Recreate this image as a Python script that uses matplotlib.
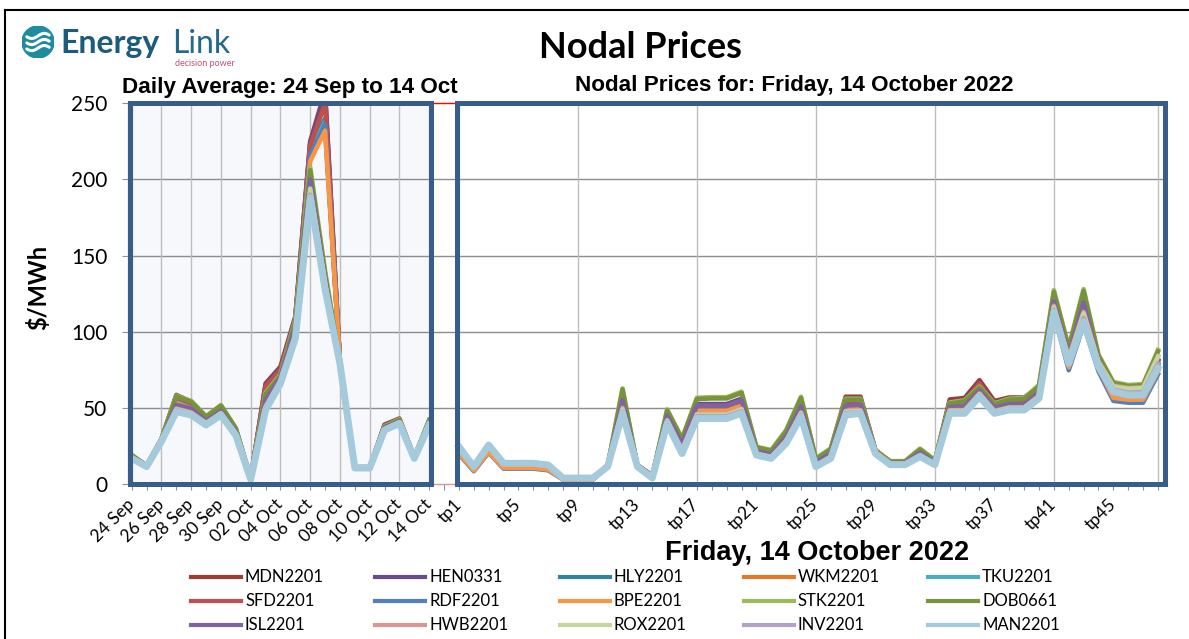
import numpy as np
import matplotlib.pyplot as plt
import matplotlib.transforms as mtransforms
from matplotlib.lines import Line2D
from matplotlib.patches import Rectangle, Circle

# --- categories ---
days = ["24 Sep", "25 Sep", "26 Sep", "27 Sep", "28 Sep", "29 Sep", "30 Sep",
        "01 Oct", "02 Oct", "03 Oct", "04 Oct", "05 Oct", "06 Oct", "07 Oct",
        "08 Oct", "09 Oct", "10 Oct", "11 Oct", "12 Oct", "13 Oct", "14 Oct"]
tps = ["tp%d" % i for i in range(1, 49)]

nodes = ["MDN2201", "HEN0331", "HLY2201", "WKM2201", "TKU2201",
         "SFD2201", "RDF2201", "BPE2201", "STK2201", "DOB0661",
         "ISL2201", "HWB2201", "ROX2201", "INV2201", "MAN2201"]
colors = ["#9E3B38", "#6A4C8C", "#31849B", "#E2772E", "#4BACC6",
          "#C0504D", "#4F81BD", "#F79646", "#9BBB59", "#77933C",
          "#8064A2", "#D99694", "#C3D69B", "#B3A2C7", "#A5CADB"]

# --- daily averages ($/MWh), 24 Sep .. 14 Oct ---
mdn_daily = [18.5, 12, 29.5, 58.5, 54, 44, 51, 36, 3.5, 66, 77, 110, 225, 258, 80, 11, 11, 39, 43, 17.5, 41.5]
hen_daily = [18.5, 12, 29.5, 57.5, 53.5, 43.5, 50.5, 35.5, 3.5, 65, 76, 109, 224, 256, 80, 11, 11, 38.5, 42.5, 17.5, 41]
hly_daily = [18, 12, 29, 56, 52, 42.5, 49.5, 35, 3.5, 63, 74, 107, 221, 240, 80, 11, 11, 37.5, 41.5, 17.5, 40.5]
wkm_daily = [17.5, 11.5, 28.5, 54, 50, 41, 48, 34, 3.5, 59, 72, 105, 214, 233, 80, 11, 11, 37, 41, 17, 40]
tku_daily = [18, 12, 29, 55, 51, 42, 49, 34.5, 3.5, 61, 73, 106, 218, 238, 80, 11, 11, 37, 41, 17, 40]
sfd_daily = [18, 12, 29, 57, 53, 43, 50, 35, 3.5, 64, 75, 108, 222, 250, 80, 11, 11, 38, 42, 17.5, 40.5]
rdf_daily = [17.5, 11.5, 28.5, 53, 49.5, 40.5, 47.5, 33.5, 3.5, 58, 71, 104, 216, 236, 80, 11, 11, 36.5, 40.5, 17, 39.5]
bpe_daily = [17.5, 11.5, 28.5, 53, 49.5, 40.5, 47.5, 33.5, 3.5, 57, 71, 104, 212, 232, 80, 11, 11, 36.5, 40.5, 17, 39.5]
stk_daily = [19, 12, 29.5, 58, 54.5, 44.5, 51.8, 36.7, 3.5, 60, 72, 108, 208, 140, 80, 11, 11, 38, 42.5, 17.5, 42]
dob_daily = [19, 12, 29.5, 57.5, 54, 44, 51.5, 36.5, 3.5, 59, 71, 107, 206, 138, 80, 11, 11, 37.5, 42, 17.5, 42]
isl_daily = [17.5, 11.5, 28.5, 52, 49.5, 41.5, 48, 34, 3.5, 55, 70, 103, 200, 135, 79.5, 10.8, 10.8, 37, 41, 17, 40]
hwb_daily = [17, 11.5, 28, 49.5, 47, 40, 46.5, 33, 3.2, 51, 68, 98, 192, 131, 79, 10.6, 10.6, 36, 40.5, 17, 39.2]
rox_daily = [17, 11.5, 28, 49, 46.5, 40, 46.5, 33, 3.2, 50, 67.5, 97.5, 194, 132, 79, 10.6, 10.6, 36, 40.5, 17, 39.2]
inv_daily = [17, 11.5, 28, 48.5, 46, 39.5, 46, 32.5, 3.2, 49.5, 67, 97, 190, 130, 79, 10.5, 10.5, 35.5, 40, 17, 39]
man_daily = [16.8, 11.4, 28, 47.5, 45.3, 38.7, 45.3, 32, 3.0, 48.6, 66, 95.6, 188, 128, 79, 10.5, 10.5, 35.4, 39.8, 16.8, 38.7]

# --- trading periods, Friday 14 October 2022 ---
mdn_tp = [21.5, 10.0, 22.6, 11.8, 11.8, 11.8, 10.7, 3.2, 3.2, 3.2, 12.4, 57.5, 12.4, 5.5, 45.5, 26.0,
          52.0, 52.0, 52.0, 55.5, 23.5, 21.5, 33.5, 56.0, 15.8, 22.8, 57.3, 57.3, 22.3, 14.8, 14.8, 22.8,
          15.2, 55.5, 56.5, 68.2, 54.5, 56.8, 56.8, 63.5, 121.5, 84.5, 121.0, 82.0, 62.5, 61.0, 61.0, 81.5]
hen_tp = [21.3, 9.9, 22.4, 11.7, 11.7, 11.7, 10.6, 3.2, 3.2, 3.2, 12.3, 57.0, 12.3, 5.4, 46.0, 26.5,
          52.5, 52.5, 52.5, 56.0, 22.8, 20.8, 33.0, 55.0, 15.0, 21.8, 55.8, 56.0, 22.0, 14.5, 14.5, 22.0,
          14.8, 54.0, 55.0, 66.5, 52.5, 55.5, 55.5, 62.5, 121.0, 84.0, 120.0, 81.5, 62.0, 60.5, 60.5, 81.0]
hly_tp = [21.2, 9.8, 22.2, 11.6, 11.6, 11.6, 10.5, 3.1, 3.1, 3.1, 12.3, 52.5, 12.3, 5.3, 44.3, 24.5,
          50.3, 50.3, 50.3, 53.8, 21.6, 19.3, 31.1, 51.2, 13.8, 19.6, 52.0, 53.0, 21.7, 14.3, 14.3, 20.8,
          14.3, 52.8, 53.5, 65.0, 51.2, 53.8, 53.8, 61.2, 118.5, 81.0, 112.5, 79.5, 60.0, 58.5, 58.5, 78.5]
wkm_tp = [20.5, 9.2, 21.5, 11.0, 11.0, 11.0, 9.9, 3.0, 3.0, 3.0, 12.0, 49.8, 12.0, 5.0, 42.8, 23.0,
          48.6, 48.6, 48.6, 52.0, 20.8, 18.6, 29.7, 49.3, 13.1, 18.6, 49.4, 50.5, 21.2, 13.9, 13.9, 19.8,
          13.9, 50.6, 50.6, 62.6, 49.5, 51.7, 51.7, 59.3, 115.5, 78.0, 108.5, 77.0, 57.5, 56.2, 56.2, 75.0]
tku_tp = [21.0, 9.6, 22.0, 11.4, 11.4, 11.4, 10.3, 3.1, 3.1, 3.1, 12.2, 51.5, 12.2, 5.2, 43.8, 24.0,
          49.6, 49.6, 49.6, 53.0, 21.3, 19.0, 30.6, 50.5, 13.5, 19.2, 51.0, 52.0, 21.5, 14.1, 14.1, 20.4,
          14.1, 52.0, 52.5, 64.0, 50.5, 53.0, 53.0, 60.5, 117.5, 80.0, 111.0, 78.5, 59.0, 57.5, 57.5, 77.5]
sfd_tp = [21.0, 9.6, 22.0, 11.4, 11.4, 11.4, 10.3, 3.1, 3.1, 3.1, 12.2, 53.0, 12.2, 5.3, 44.5, 25.0,
          51.0, 51.0, 51.0, 54.5, 22.0, 19.8, 31.8, 52.5, 14.3, 20.5, 54.0, 54.8, 21.8, 14.3, 14.3, 21.2,
          14.5, 53.5, 54.5, 66.0, 52.0, 54.8, 54.8, 61.8, 119.0, 81.5, 113.0, 80.0, 60.5, 59.0, 59.0, 79.0]
rdf_tp = [19.5, 8.4, 20.6, 10.1, 10.1, 10.1, 9.0, 2.9, 2.9, 2.9, 11.4, 48.4, 11.4, 4.4, 41.8, 22.0,
          47.0, 47.0, 47.0, 50.4, 20.0, 17.8, 28.7, 48.2, 12.4, 17.8, 48.3, 49.4, 20.5, 13.2, 13.2, 19.0,
          13.2, 49.4, 49.4, 61.3, 48.4, 50.6, 50.6, 58.2, 112.0, 74.7, 104.5, 74.0, 54.6, 53.4, 53.4, 72.0]
bpe_tp = [20.0, 8.9, 21.1, 10.6, 10.6, 10.6, 9.5, 2.9, 2.9, 2.9, 11.9, 48.9, 11.9, 4.9, 42.3, 22.5,
          48.0, 48.0, 48.0, 51.4, 20.5, 18.3, 29.2, 48.7, 12.9, 18.3, 48.8, 49.9, 21.0, 13.7, 13.7, 19.5,
          13.7, 49.9, 49.9, 61.8, 48.9, 51.1, 51.1, 58.7, 114.0, 76.7, 106.5, 76.0, 56.6, 55.4, 55.4, 74.0]
stk_tp = [24.0, 11.2, 25.2, 13.4, 13.4, 13.4, 12.3, 3.8, 3.8, 3.8, 11.8, 62.8, 11.8, 5.0, 49.0, 30.0,
          56.6, 57.0, 57.0, 60.6, 24.5, 22.3, 35.4, 57.3, 16.8, 23.4, 56.0, 56.0, 22.0, 15.0, 15.0, 23.2,
          15.7, 53.5, 55.0, 64.0, 53.0, 56.0, 56.5, 65.0, 127.3, 90.0, 128.0, 85.0, 67.0, 65.0, 65.6, 88.0]
dob_tp = [23.8, 11.1, 25.0, 13.3, 13.3, 13.3, 12.2, 3.8, 3.8, 3.8, 11.7, 62.0, 11.7, 4.9, 48.3, 29.3,
          55.8, 56.2, 56.2, 59.8, 24.0, 21.8, 34.6, 56.5, 16.3, 22.8, 55.3, 55.3, 21.6, 14.7, 14.7, 22.7,
          15.3, 52.8, 54.3, 63.3, 52.3, 55.3, 55.8, 64.2, 126.0, 89.0, 126.8, 84.2, 66.2, 64.3, 64.8, 87.0]
isl_tp = [24.2, 11.3, 25.3, 13.5, 13.5, 13.5, 12.4, 3.9, 3.9, 3.9, 11.6, 55.0, 11.6, 4.6, 45.0, 26.0,
          51.5, 51.5, 51.5, 55.0, 21.5, 19.5, 31.0, 51.0, 14.0, 20.0, 51.5, 52.0, 21.0, 13.8, 13.8, 20.5,
          14.0, 50.5, 51.0, 61.5, 50.0, 52.5, 52.5, 60.0, 120.0, 84.5, 119.0, 81.0, 63.0, 61.5, 61.8, 80.5]
hwb_tp = [24.4, 11.4, 25.5, 13.6, 13.6, 13.6, 12.5, 3.9, 3.9, 3.9, 11.5, 50.0, 11.5, 4.2, 42.0, 22.5,
          46.0, 46.0, 46.0, 49.5, 20.0, 17.8, 28.5, 47.0, 12.3, 18.0, 48.0, 48.5, 20.5, 13.2, 13.2, 19.0,
          13.2, 48.5, 48.5, 59.5, 48.0, 50.3, 50.3, 58.0, 117.0, 83.0, 113.0, 80.5, 64.5, 63.0, 63.5, 84.0]
rox_tp = [24.4, 11.4, 25.5, 13.6, 13.6, 13.6, 12.5, 3.9, 3.9, 3.9, 11.5, 49.0, 11.5, 4.1, 41.5, 22.0,
          45.5, 45.5, 45.5, 49.0, 19.8, 17.6, 28.2, 46.5, 12.1, 17.8, 47.5, 48.0, 20.3, 13.0, 13.0, 18.8,
          13.0, 48.0, 48.0, 59.0, 47.5, 50.0, 50.0, 57.5, 116.0, 82.0, 112.0, 80.0, 64.0, 62.5, 63.0, 83.5]
inv_tp = [24.5, 11.4, 25.6, 13.6, 13.6, 13.6, 12.5, 3.9, 3.9, 3.9, 11.4, 47.5, 11.4, 4.0, 40.8, 21.0,
          44.5, 44.5, 44.5, 47.8, 19.5, 17.2, 27.5, 45.5, 11.8, 17.3, 46.5, 47.3, 20.2, 12.9, 12.9, 18.4,
          12.9, 47.2, 47.2, 58.2, 47.0, 49.3, 49.3, 56.9, 114.5, 80.5, 109.0, 78.5, 62.0, 60.0, 60.3, 79.0]
man_tp = [24.5, 11.4, 25.6, 13.6, 13.6, 13.6, 12.5, 3.9, 3.9, 3.9, 11.4, 46.4, 11.4, 3.9, 39.8, 20.0,
          43.0, 43.0, 43.0, 46.4, 19.0, 16.8, 26.7, 44.2, 11.4, 16.8, 45.3, 46.4, 20.0, 12.7, 12.7, 18.0,
          12.7, 46.4, 46.4, 57.3, 46.4, 48.6, 48.6, 56.2, 113.0, 79.2, 106.5, 77.0, 60.6, 58.4, 58.4, 76.0]

daily = [mdn_daily, hen_daily, hly_daily, wkm_daily, tku_daily, sfd_daily, rdf_daily, bpe_daily,
         stk_daily, dob_daily, isl_daily, hwb_daily, rox_daily, inv_daily, man_daily]
periods = [mdn_tp, hen_tp, hly_tp, wkm_tp, tku_tp, sfd_tp, rdf_tp, bpe_tp,
           stk_tp, dob_tp, isl_tp, hwb_tp, rox_tp, inv_tp, man_tp]

W, H = 1189, 639
BOX = "#385D8A"
LATO = ["Lato", "DejaVu Sans"]
ARIAL = ["Liberation Sans", "DejaVu Sans"]

fig = plt.figure(figsize=(W / 100, H / 100), dpi=100)

def fx(px):
    return px / W

def fy(py):
    return 1 - py / H

# one category axis: days, one blank slot, then trading periods
day_x = np.arange(len(days))
tp_x = np.arange(len(tps)) + len(days) + 1
n_cat = len(days) + 1 + len(tps)

ax = fig.add_axes([fx(128), fy(484), fx(1166) - fx(128), fy(103.3) - fy(484)])
ax.set_xlim(-0.25, n_cat - 0.46)
ax.set_ylim(0, 250)
for s in ax.spines.values():
    s.set_color("#D99694")
    s.set_linewidth(1)
ax.spines["top"].set_color("#FF0000")

# left panel background
ax.add_patch(Rectangle((-0.11, 0), 20.24, 250, facecolor="#F6F8FB", edgecolor="none", zorder=0.5))

# gridlines
for yv in [50, 100, 150, 200]:
    ax.axhline(yv, color="#8C8C8C", lw=1, zorder=1)
for i in range(0, len(days), 2):
    ax.axvline(day_x[i], color="#BDBDBD", lw=1, zorder=1)
for j in [0, 8, 16, 24, 32, 40, 47]:
    ax.axvline(tp_x[j], color="#BDBDBD", lw=1, zorder=1)

# series
for k, (name, c) in enumerate(zip(nodes, colors)):
    lw = 5 if name == "MAN2201" else 3.3
    ax.plot(day_x, daily[k], color=c, lw=lw, solid_joinstyle="round", zorder=2 + k * 0.01)
    ax.plot(tp_x, periods[k], color=c, lw=lw, solid_joinstyle="round", zorder=2 + k * 0.01)

# panel frames
ax.add_patch(Rectangle((-0.11, 0), 20.24, 250, facecolor="none", edgecolor=BOX, lw=3.6,
                       zorder=4, clip_on=False))
ax.add_patch(Rectangle((21.86, 0), 69.48 - 21.86, 250, facecolor="none", edgecolor=BOX, lw=3.6,
                       zorder=4, clip_on=False))

# ticks
xlabels = [""] * n_cat
for i in range(0, len(days), 2):
    xlabels[day_x[i]] = days[i]
for j in range(0, 45, 4):
    xlabels[tp_x[j]] = tps[j]
ax.set_xticks(np.arange(n_cat))
ax.set_xticklabels(xlabels, rotation=45, ha="right", va="center", rotation_mode="anchor",
                   family=LATO, fontsize=12.5)
shift = mtransforms.ScaledTranslation(6 / 100, 0, fig.dpi_scale_trans)
for lab in ax.get_xticklabels():
    lab.set_transform(lab.get_transform() + shift)
ax.set_yticks([0, 50, 100, 150, 200, 250])
ax.set_yticklabels(["0", "50", "100", "150", "200", "250"], family=LATO, fontsize=15)
ax.tick_params(axis="x", length=4, color="#909090", pad=9)
ax.tick_params(axis="y", length=4, color="#909090", pad=11)

# titles / labels
fig.text(fx(640), fy(47), "Nodal Prices", family=LATO, weight="bold", fontsize=26,
         ha="center", va="center")
fig.text(fx(122), fy(88), "Daily Average: 24 Sep to 14 Oct", family=ARIAL, weight="bold",
         fontsize=16.2, ha="left", va="center")
fig.text(fx(794), fy(85), "Nodal Prices for: Friday, 14 October 2022", family=ARIAL,
         weight="bold", fontsize=16.2, ha="center", va="center")
fig.text(fx(817), fy(553), "Friday, 14 October 2022", family=ARIAL, weight="bold",
         fontsize=19.5, ha="center", va="center")
fig.text(fx(38), fy(287), "$/MWh", family=LATO, weight="bold", fontsize=17,
         rotation=90, ha="center", va="center")

# legend (3 rows x 5 columns)
for k, (name, c) in enumerate(zip(nodes, colors)):
    row, col = divmod(k, 5)
    x0 = 191 + col * 184.3
    y0 = 577 + row * 24
    fig.add_artist(Line2D([fx(x0), fx(x0 + 50)], [fy(y0), fy(y0)], color=c, lw=3))
    fig.text(fx(x0 + 54), fy(y0), name, family=LATO, fontsize=12, ha="left", va="center")

# outer frame (cropped screenshot)
fig.add_artist(Line2D([fx(5), 1], [fy(10), fy(10)], color="black", lw=1.5))
fig.add_artist(Line2D([fx(5), fx(5)], [0, fy(10)], color="black", lw=1.5))

# logo
lax = fig.add_axes([fx(22), fy(58), fx(32), fy(26) - fy(58)])
lax.set_xlim(-1, 1)
lax.set_ylim(-1, 1)
lax.set_aspect("equal")
lax.axis("off")
lax.add_patch(Circle((0, 0), 1, color="#1E8C9E"))
wx = np.linspace(-0.7, 0.7, 40)
for off in (0.38, 0.0, -0.38):
    lax.plot(wx, off + 0.16 * np.sin(wx * 4.0), color="white", lw=2.2, solid_capstyle="round")
fig.text(fx(60), fy(44), "Energy", family=LATO, weight="bold", fontsize=23,
         color="#1C5B7D", ha="left", va="center")
fig.text(fx(172), fy(44), "Link", family=LATO, fontsize=23, color="#24688A",
         ha="left", va="center")
fig.text(fx(175), fy(64), "decision power", family=LATO, fontsize=6.5, color="#C2507A",
         ha="left", va="center")

fig.savefig("out.png", dpi=100)
